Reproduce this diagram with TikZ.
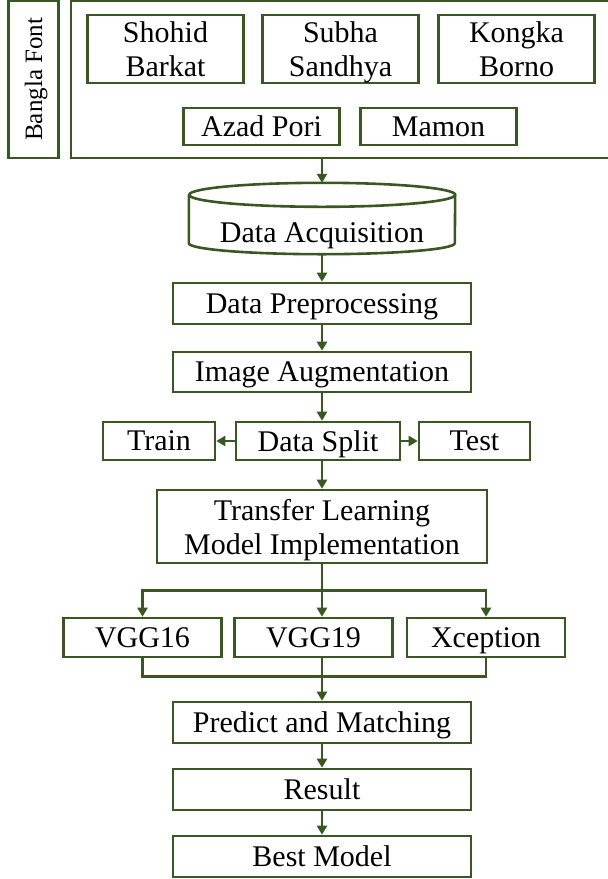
\documentclass[tikz,border=0pt]{standalone}
\usepackage{fontspec}
\setmainfont{Liberation Serif}
\usetikzlibrary{arrows.meta}
\definecolor{leaf}{RGB}{56,87,35}
\tikzset{
    box/.style={rectangle,draw=leaf,line width=2.6pt,inner sep=0,align=center,text depth=0pt,font=\fontsize{30}{34}\selectfont},
    fontbox/.style={box,minimum width=156pt,minimum height=68pt},
    stepbox/.style={box,minimum width=298pt,minimum height=41pt},
    modelbox/.style={box,minimum width=158pt,minimum height=39pt},
    tag/.style={box,rotate=90,minimum width=157.5pt,minimum height=50pt,font=\fontsize{25}{30}\selectfont},
    tank/.style={rectangle,inner sep=0,minimum width=266pt,minimum height=71pt,text height=53pt,text depth=6pt,font=\fontsize{30}{34}\selectfont},
    wire/.style={draw=leaf,line width=2.6pt},
    link/.style={wire,-{Triangle[length=9pt,width=10pt]}}
}
\begin{document}
\begin{tikzpicture}[x=1pt,y=1pt]
    \useasboundingbox (0,0) rectangle (608,-879);
    \node[tag] (bangla) at (33.5,-79.25) {Bangla Font};
    \node[box,minimum width=541pt,minimum height=157.5pt] (fonts) at (341.5,-79.25) {};
    \node[fontbox] (shohid) at (165.5,-49) {Shohid\\Barkat};
    \node[fontbox] (subha) at (340.5,-49) {Subha\\Sandhya};
    \node[fontbox] (kongka) at (516.5,-49) {Kongka\\Borno};
    \node[fontbox,minimum height=37pt] (azad) at (261.5,-126.5) {Azad Pori};
    \node[fontbox,minimum height=37pt] (mamon) at (438.5,-126.5) {Mamon};

    \node[tank] (acq) at (322,-218.5) {Data Acquisition};
    \draw[wire] ([yshift=-12pt]acq.north west) -- ([yshift=11pt]acq.south west)
        arc[start angle=180,end angle=360,x radius=133pt,y radius=11pt]
        -- ([yshift=-12pt]acq.north east)
        arc[start angle=0,end angle=360,x radius=133pt,y radius=12pt];
    \node[stepbox] (prep) at (322,-303.5) {Data Preprocessing};
    \node[stepbox,minimum height=40pt] (aug) at (322,-372) {Image Augmentation};
    \node[box,minimum width=164pt,minimum height=38pt] (split) at (318,-441) {Data Split};
    \node[box,minimum width=112pt,minimum height=38pt] (train) at (159,-441) {Train};
    \node[box,minimum width=111pt,minimum height=38pt] (test) at (474.5,-441) {Test};
    \node[box,minimum width=330pt,minimum height=73pt] (transfer) at (322,-526.5) {Transfer Learning\\Model Implementation};
    \node[modelbox] (vgg16) at (142.5,-637.5) {VGG16};
    \node[modelbox] (vgg19) at (313.5,-637.5) {VGG19};
    \node[modelbox] (xception) at (486,-637.5) {Xception};
    \node[stepbox] (predict) at (322,-722.5) {Predict and Matching};
    \node[stepbox] (result) at (322,-789.5) {Result};
    \node[stepbox] (best) at (322,-856.5) {Best Model};

    \draw[link] (fonts.south -| acq.north) -- (acq.north);
    \draw[link] (acq) -- (prep);
    \draw[link] (prep) -- (aug);
    \draw[link] (aug.south) -- (aug.south |- split.north);
    \draw[link] (split.west) -- (train.east);
    \draw[link] (split.east) -- (test.west);
    \draw[link] (split.south -| transfer.north) -- (transfer.north);
    \path (transfer.south) ++(0,-26pt) coordinate (fork);
    \draw[link] (transfer.south) -- (transfer.south |- vgg19.north);
    \draw[link] (fork) -| (vgg16.north);
    \draw[link] (fork) -| (xception.north);
    \path (predict.north) ++(0,24pt) coordinate (join);
    \draw[wire] (vgg16.south) |- (join);
    \draw[wire] (xception.south) |- (join);
    \draw[link] (vgg19.south -| join) -- (predict.north);
    \draw[link] (predict) -- (result);
    \draw[link] (result) -- (best);
\end{tikzpicture}
\end{document}
